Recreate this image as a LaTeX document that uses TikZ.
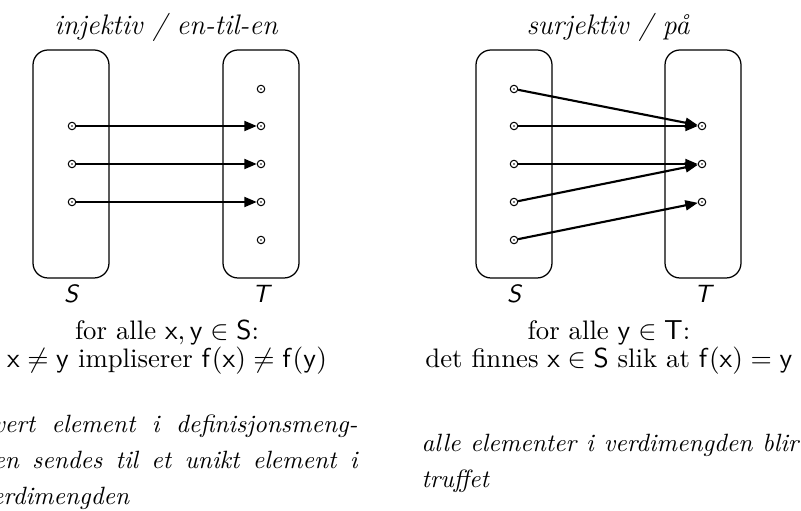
\documentclass[tikz,border=0pt]{standalone}
\usepackage{amsmath,amssymb}
\usepackage{xcolor}
\usepackage{tikz}
\usetikzlibrary{arrows.meta,positioning}

\begin{document}
\begin{tikzpicture}[x=0.4pt, y=-0.4pt,
    set/.style={draw, rounded corners=6pt, minimum width=30.4pt,
      minimum height=91.2pt, line width=0.5pt},
    elem/.style={circle, draw, line width=0.4pt, minimum size=3pt, inner sep=0pt,
      path picture={\fill (path picture bounding box.center) circle (0.35pt);}},
    arrow/.style={-{Triangle[length=5pt, width=4pt]}, line width=0.85pt},
    setname/.style={font=\sffamily\itshape, anchor=base},
    title/.style={font=\fontsize{11.3}{13}\selectfont\itshape, anchor=base},
    note/.style={font=\fontsize{10.7}{11.2}\selectfont, align=center, anchor=base},
    remark/.style={font=\itshape\fontsize{10}{14.4}\selectfont, text width=150.8pt,
      align=justify, inner sep=0pt, anchor=base west}]
  \useasboundingbox (0,0) rectangle (801,511);
  % injektiv / en-til-en
  \node[title] (injtitle) at (166,35) {injektiv / en-til-en};
  \node[set] (injS) at (71,164) {};
  \node[set] (injT) at (261,164) {};
  \node[setname] (injSname) at (71,303) {S};
  \node[setname] (injTname) at (261,303) {T};
  \foreach \i/\y in {1/126,2/164,3/202}
    \node[elem] (a\i) at (72,\y) {};
  \foreach \i/\y in {1/89,2/126,3/164,4/202,5/240}
    \node[elem] (b\i) at (261,\y) {};
  \foreach \i/\j in {1/2,2/3,3/4}
    \draw[arrow] (a\i) -- (b\j);
  \node[note] (injnote) at (167,368)
    {for alle $\mathsf{x},\mathsf{y}\in\mathsf{S}$:\\
     $\mathsf{x}\neq\mathsf{y}$ impliserer $\mathsf{f}(\mathsf{x})\neq\mathsf{f}(\mathsf{y})$};
  \node[remark] (injremark) at (-20,433)
    {hvert element i definisjonsmeng-\linebreak den sendes til et unikt element i\linebreak verdimengden};
  % surjektiv / paa
  \node[title] (surtitle) at (608,35) {surjektiv / på};
  \node[set] (surS) at (514,164) {};
  \node[set] (surT) at (703,164) {};
  \node[setname] (surSname) at (514,303) {S};
  \node[setname] (surTname) at (703,303) {T};
  \foreach \i/\y in {1/89,2/126,3/164,4/202,5/240}
    \node[elem] (c\i) at (514,\y) {};
  \foreach \i/\y in {1/126,2/164,3/202}
    \node[elem] (d\i) at (702,\y) {};
  \foreach \i/\j in {1/1,2/1,3/2,4/2,5/3}
    \draw[arrow] (c\i) -- (d\j);
  \node[note] (surnote) at (609,368)
    {for alle $\mathsf{y}\in\mathsf{T}$:\\
     det finnes $\mathsf{x}\in\mathsf{S}$ slik at $\mathsf{f}(\mathsf{x})=\mathsf{y}$};
  \node[remark] (surremark) at (421,452)
    {alle elementer i verdimengden blir\linebreak truffet};
\end{tikzpicture}
\end{document}
